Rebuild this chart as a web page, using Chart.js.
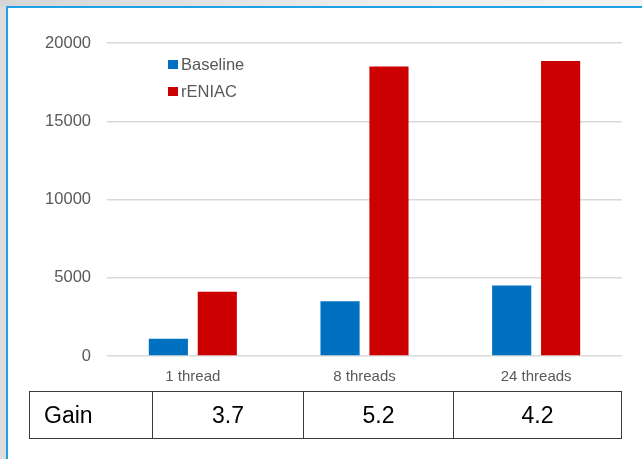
<!DOCTYPE html>
<html>
<head>
<meta charset="utf-8">
<script src="https://cdn.jsdelivr.net/npm/chart.js@4/dist/chart.umd.min.js"></script>
<style>
  html, body { margin: 0; padding: 0; }
  body {
    width: 642px; height: 459px; overflow: hidden; position: relative;
    background: #dcdcdc;
    font-family: "Liberation Sans", Arial, sans-serif;
  }
  #topband {
    position: absolute; left: 0; top: 0; width: 642px; height: 6px;
    background: linear-gradient(to right, #d6d6d6, #eeeeee 60%, #f3f3f3);
  }
  #frame {
    position: absolute; left: 6px; top: 6px; width: 636px; height: 453px;
    background: #ffffff;
    border-left: 2px solid #1ea1e6; border-top: 2px solid #1ea1e6;
    box-sizing: border-box;
  }
  #chart { position: absolute; left: 0; top: 0; }
  #gain {
    position: absolute; left: 29px; top: 391px;
    border-collapse: collapse; table-layout: fixed;
    font-family: "Liberation Sans", Arial, sans-serif; font-size: 23px; color: #000;
  }
  #gain td {
    border: 1px solid #3a3a3a; height: 46px; padding: 0; text-align: center;
  }
  #gain td.head { text-align: left; padding-left: 14px; }
</style>
</head>
<body>
<div id="topband"></div>
<div id="frame"></div>
<canvas id="chart" width="642" height="459"></canvas>
<table id="gain"><tr id="gainRow"></tr></table>
<script>
// Throughput per thread count
const categories = ['1 thread', '8 threads', '24 threads'];
const baseline = [1100, 3500, 4500];
const reniac = [4100, 18500, 18850];
const seriesNames = ['Baseline', 'rENIAC'];
const seriesColors = ['#0070c0', '#cc0000'];
const yMax = 20000;
const yStep = 5000;

// Speed-up row below the chart
const gainTitle = 'Gain';
const gains = ['3.7', '5.2', '4.2'];
const gainColWidths = [123, 151, 150, 168];

const row = document.getElementById('gainRow');
[gainTitle].concat(gains).forEach((txt, i) => {
  const td = document.createElement('td');
  td.textContent = txt;
  td.style.width = (gainColWidths[i] - 1) + 'px';
  if (i === 0) { td.className = 'head'; td.style.width = (gainColWidths[i] - 15) + 'px'; }
  row.appendChild(td);
});

const FONT = '"Liberation Sans", Arial, sans-serif';
const GREY_TEXT = '#595959';

// Legend drawn inside the plot area, top-left
const innerLegend = {
  id: 'innerLegend',
  afterDraw(chart) {
    const ctx = chart.ctx;
    ctx.save();
    ctx.font = '16.5px ' + FONT;
    ctx.textBaseline = 'middle';
    chart.data.datasets.forEach((ds, i) => {
      const y = 65 + i * 27;
      ctx.fillStyle = ds.backgroundColor;
      ctx.fillRect(168, y - 5, 10, 9);
      ctx.fillStyle = GREY_TEXT;
      ctx.fillText(ds.label, 181, y);
    });
    ctx.restore();
  }
};

new Chart(document.getElementById('chart'), {
  type: 'bar',
  data: {
    labels: categories,
    datasets: [
      { label: seriesNames[0], data: baseline, backgroundColor: seriesColors[0] },
      { label: seriesNames[1], data: reniac, backgroundColor: seriesColors[1] }
    ]
  },
  options: {
    responsive: false,
    animation: false,
    devicePixelRatio: 1,
    layout: { padding: { left: 0, top: 43, right: 20, bottom: 73 } },
    plugins: { legend: { display: false }, tooltip: { enabled: false } },
    datasets: { bar: { categoryPercentage: 0.57, barPercentage: 0.8 } },
    scales: {
      x: {
        grid: { display: false, drawTicks: false },
        border: { display: false },
        ticks: { color: GREY_TEXT, font: { family: FONT, size: 15 }, padding: 12 },
        afterFit(scale) { scale.height = 30; }
      },
      y: {
        min: 0, max: yMax,
        ticks: {
          stepSize: yStep, color: GREY_TEXT, font: { family: FONT, size: 16.5 }, padding: 16,
          callback: (v) => String(v)
        },
        grid: { color: '#d9d9d9', lineWidth: 1.5, drawTicks: false },
        border: { display: false },
        afterFit(scale) { scale.width = 107; }
      }
    }
  },
  plugins: [innerLegend]
});
</script>
</body>
</html>
